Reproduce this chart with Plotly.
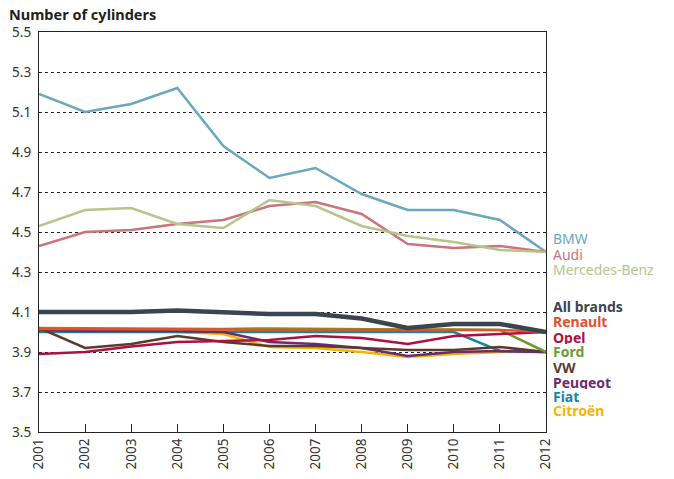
import plotly.graph_objects as go

years = [2001, 2002, 2003, 2004, 2005, 2006, 2007, 2008, 2009, 2010, 2011, 2012]

bmw = [5.19, 5.10, 5.14, 5.22, 4.93, 4.77, 4.82, 4.69, 4.61, 4.61, 4.56, 4.40]
audi = [4.43, 4.50, 4.51, 4.54, 4.56, 4.63, 4.65, 4.59, 4.44, 4.42, 4.43, 4.40]
mercedes = [4.53, 4.61, 4.62, 4.54, 4.52, 4.66, 4.63, 4.53, 4.48, 4.45, 4.41, 4.40]
all_brands = [4.10, 4.10, 4.10, 4.107, 4.10, 4.09, 4.09, 4.067, 4.02, 4.04, 4.04, 4.00]
renault = [4.015, 4.015, 4.015, 4.012, 4.012, 4.01, 4.01, 4.01, 4.01, 4.01, 4.01, 4.00]
opel = [3.89, 3.90, 3.927, 3.95, 3.955, 3.96, 3.98, 3.97, 3.94, 3.98, 3.99, 4.00]
ford = [4.02, 4.018, 4.018, 4.015, 4.015, 4.018, 4.015, 4.012, 4.012, 4.012, 4.01, 3.90]
vw = [4.02, 3.92, 3.94, 3.98, 3.95, 3.93, 3.93, 3.92, 3.91, 3.91, 3.925, 3.90]
peugeot = [4.01, 4.005, 4.005, 4.005, 4.00, 3.95, 3.94, 3.92, 3.88, 3.90, 3.905, 3.90]
fiat = [4.00, 4.00, 4.00, 4.00, 4.00, 4.00, 4.00, 4.00, 4.00, 4.00, 3.905, 3.90]
citroen = [4.02, 4.01, 4.01, 4.00, 3.99, 3.925, 3.92, 3.90, 3.875, 3.89, 3.90, 3.90]

series = [
    ("BMW", bmw, "#6ba7bf", 2.5),
    ("Audi", audi, "#cc737c", 2.5),
    ("Mercedes-Benz", mercedes, "#b6c58d", 2.5),
    ("Citroën", citroen, "#f7b500", 2.5),
    ("Fiat", fiat, "#17879f", 2.5),
    ("Peugeot", peugeot, "#6c2a6f", 2.5),
    ("VW", vw, "#5b3b2b", 2.5),
    ("Ford", ford, "#6f9a30", 2.5),
    ("Opel", opel, "#b1103f", 2.5),
    ("Renault", renault, "#e2512a", 2.5),
    ("All brands", all_brands, "#3b4550", 4.5),
]

label_rows = [
    ("BMW", 4.4725, "#6ba7bf", False),
    ("Audi", 4.3925, "#cc737c", False),
    ("Mercedes-Benz", 4.3175, "#b6c58d", False),
    ("All brands", 4.1325, "#3b4550", True),
    ("Renault", 4.0575, "#e2512a", True),
    ("Opel", 3.9775, "#b1103f", True),
    ("Ford", 3.9075, "#6f9a30", True),
    ("VW", 3.8275, "#5b3b2b", True),
    ("Peugeot", 3.7525, "#6c2a6f", True),
    ("Fiat", 3.6825, "#17879f", True),
    ("Citroën", 3.6125, "#f7b500", True),
]

fig = go.Figure()
for name, vals, color, w in series:
    fig.add_trace(go.Scatter(x=years, y=vals, mode="lines", name=name,
                             line=dict(color=color, width=w), showlegend=False))

for text, yv, color, bold in label_rows:
    fig.add_annotation(x=1.0, xref="paper", y=yv, yref="y", xanchor="left",
                       xshift=5, height=14, valign="middle",
                       text=("<b>%s</b>" % text) if bold else text,
                       showarrow=False, font=dict(size=14, color=color))

fig.add_annotation(x=0, xref="paper", y=1, yref="paper", xanchor="left", yanchor="bottom",
                   xshift=-32, yshift=6, text="<b>Number of cylinders</b>",
                   showarrow=False, font=dict(size=14.5, color="#231f20"))

fig.update_layout(
    width=674, height=479,
    margin=dict(l=39, r=128, t=32, b=47, autoexpand=False),
    paper_bgcolor="white", plot_bgcolor="white",
    font=dict(family="Noto Sans, sans-serif", size=13, color="#333333"),
)
fig.update_xaxes(range=[2001, 2012], tickmode="array", tickvals=years,
                 ticktext=[str(y) for y in years], tickangle=-90,
                 ticks="inside", ticklen=8, tickcolor="#222222",
                 showline=True, linecolor="#222222", linewidth=1.3, mirror=True,
                 showgrid=False, zeroline=False, automargin=False,
                 tickfont=dict(size=13.5))
fig.update_yaxes(range=[3.5, 5.5], tickmode="array",
                 tickvals=[3.5, 3.7, 3.9, 4.1, 4.3, 4.5, 4.7, 4.9, 5.1, 5.3, 5.5],
                 ticktext=["3.5", "3.7", "3.9", "4.1", "4.3", "4.5", "4.7", "4.9", "5.1", "5.3", "5.5"],
                 showline=True, linecolor="#222222", linewidth=1.3, mirror=True,
                 showgrid=True, gridcolor="#222222", griddash="dot", gridwidth=1,
                 zeroline=False, ticks="", automargin=False, ticklabelstandoff=4,
                 tickfont=dict(size=13.5))

fig.write_html("out.html", config={"displayModeBar": False},
               post_script="document.body.style.margin='0';")
